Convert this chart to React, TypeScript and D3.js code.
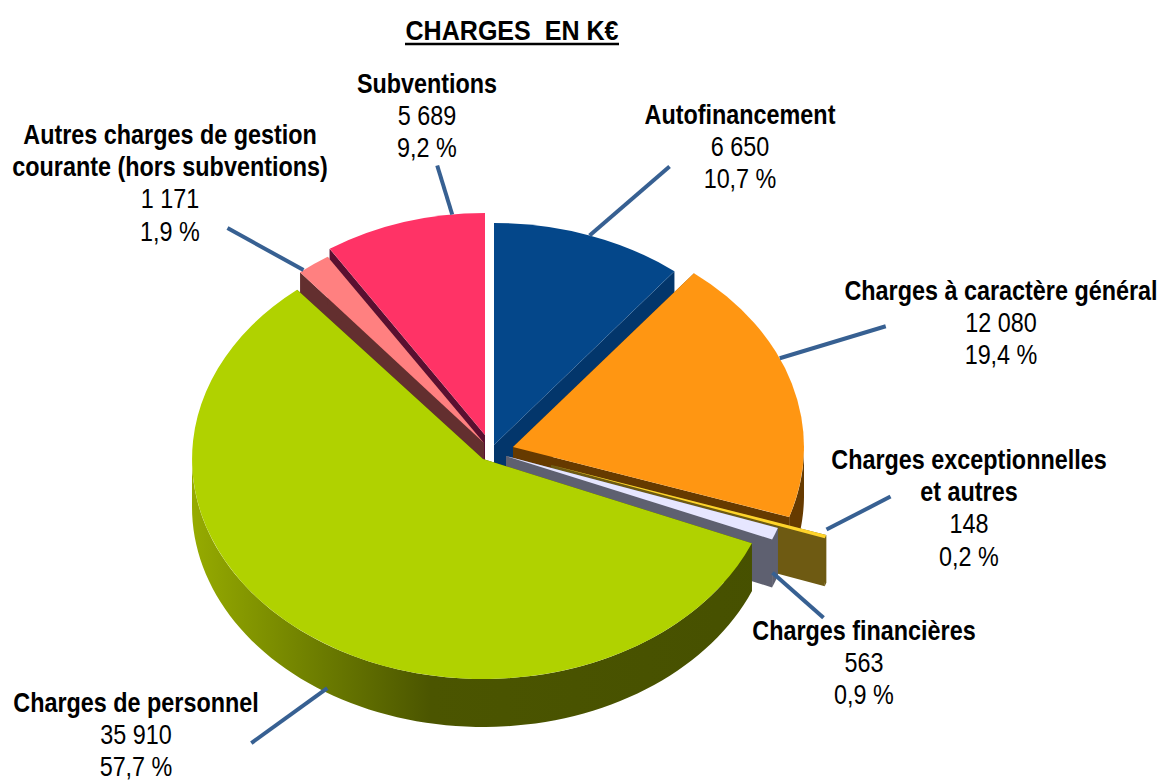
import React from "react";
import * as d3 from "d3";

const categories = [
  "Autofinancement",
  "Charges à caractère général",
  "Charges exceptionnelles|et autres",
  "Charges financières",
  "Charges de personnel",
  "Autres charges de gestion|courante (hors subventions)",
  "Subventions",
];
const values = [6650, 12080, 148, 563, 35910, 1171, 5689];
const valueLabels = ["6 650", "12 080", "148", "563", "35 910", "1 171", "5 689"];
const percentLabels = ["10,7 %", "19,4 %", "0,2 %", "0,9 %", "57,7 %", "1,9 %", "9,2 %"];

const faceColors = ["#04478a", "#ff9612", "#ffd42a", "#e6e6ff", "#b0d200", "#ff8080", "#ff3366"];
const wallColors = ["#03366b", "#663a00", "#6e5a12", "#5e6070", "url(#greenWall)", "#632f2f", "#5a0f30"];

// layout of the exploded slices: centre x, centre y, radius x, radius y
const sliceCx = [494, 513, 551, 506, 483, 484, 485];
const sliceCy = [445, 447, 465, 456, 459, 443, 435];
const sliceRx = [290, 291, 290, 288, 291, 288, 286];
const sliceRy = [222, 222, 222, 218, 220, 222, 222];
const depth = 48;
const drawOrder = [6, 5, 0, 1, 2, 3, 4];

// label layout
const labelCx = [740, 1001, 969, 864, 136, 170, 427];
const labelTop = [124, 300, 469, 640, 712, 144, 93];
const lineStep = 32.2;
const textSqueeze = 0.835;
const titleSqueeze = 0.895;

// leaders: fraction along slice's arc, nudge from arc, offset to outer end
const leaderFrac = [0.5, 0.4, 0.5, 0.6, 0.5, 0.13, 0.8];
const leaderNudge = [[0, 0], [0, 0], [1, -7], [-2, 38], [17, 4 + depth], [0, 0], [0, 0]];
const leaderOffset = [[80, -69], [106, -32], [64, -33], [51, 45], [-76, 55], [-76, -42], [-15, -49]];

const FONT = "'Liberation Sans', Arial, sans-serif";

const pieGen = d3.pie<number>().sort(null).startAngle(0).endAngle(2 * Math.PI);
const arcs = pieGen(values);
const unitArc = d3.arc<any>().innerRadius(0).outerRadius(1);

function pt(i: number, a: number, dy = 0): [number, number] {
  return [sliceCx[i] + sliceRx[i] * Math.sin(a), sliceCy[i] - sliceRy[i] * Math.cos(a) + dy];
}

const poly = d3.line();

function radialWall(i: number, a: number) {
  const c: [number, number] = [sliceCx[i], sliceCy[i]];
  return poly([c, pt(i, a), pt(i, a, depth), [c[0], c[1] + depth]]) + "Z";
}

function arcWall(i: number, a0: number, a1: number) {
  const lo = Math.max(a0, Math.PI / 2);
  const hi = Math.min(a1, (3 * Math.PI) / 2);
  if (hi <= lo) return null;
  const n = 80;
  const t = d3.scaleLinear().domain([0, n]).range([lo, hi]);
  const top = d3.range(n + 1).map((k) => pt(i, t(k)));
  const bottom = d3.range(n, -1, -1).map((k) => pt(i, t(k), depth));
  return poly([...top, ...bottom]) + "Z";
}

function Line({ x, y, text, bold, squeeze }: { x: number; y: number; text: string; bold?: boolean; squeeze: number }) {
  return (
    <text
      transform={`translate(${x},${y}) scale(${squeeze},1)`}
      textAnchor="middle"
      fontSize={28}
      fontWeight={bold ? "bold" : "normal"}
      fill="#000"
      style={{ whiteSpace: "pre" }}
    >
      {text}
    </text>
  );
}

export default function App() {
  const gradX = d3.scaleLinear().domain([0, 1]).range([192, 790]);
  return (
    <svg
      width={1162}
      height={780}
      viewBox="0 0 1162 780"
      style={{ position: "absolute", left: 0, top: 0, background: "#fff" }}
      fontFamily={FONT}
    >
      <defs>
        <linearGradient id="greenWall" gradientUnits="userSpaceOnUse" x1={gradX(0)} x2={gradX(1)} y1={0} y2={0}>
          <stop offset="0" stopColor="#96ab00" />
          <stop offset="0.22" stopColor="#6b7b00" />
          <stop offset="0.4" stopColor="#4b5500" />
          <stop offset="1" stopColor="#465000" />
        </linearGradient>
      </defs>

      <Line x={512} y={40} text="CHARGES  EN K€" bold squeeze={titleSqueeze} />
      <line x1={405} x2={619} y1={44} y2={44} stroke="#000" strokeWidth={2.5} />

      {drawOrder.map((i) => {
        const d = arcs[i];
        const aw = arcWall(i, d.startAngle, d.endAngle);
        const solid = wallColors[i] === "url(#greenWall)" ? "#465000" : wallColors[i];
        return (
          <g key={i}>
            <path d={radialWall(i, d.startAngle)} fill={solid} />
            <path d={radialWall(i, d.endAngle)} fill={solid} />
            {aw && <path d={aw} fill={wallColors[i]} />}
            <path
              d={unitArc(d) as string}
              fill={faceColors[i]}
              transform={`translate(${sliceCx[i]},${sliceCy[i]}) scale(${sliceRx[i]},${sliceRy[i]})`}
            />
          </g>
        );
      })}

      {arcs.map((d, i) => {
        const a = d.startAngle + (d.endAngle - d.startAngle) * leaderFrac[i];
        const [x, y] = pt(i, a);
        const x1 = x + leaderNudge[i][0];
        const y1 = y + leaderNudge[i][1];
        return (
          <line
            key={i}
            x1={x1}
            y1={y1}
            x2={x1 + leaderOffset[i][0]}
            y2={y1 + leaderOffset[i][1]}
            stroke="#376092"
            strokeWidth={4}
          />
        );
      })}

      {categories.map((c, i) => {
        const names = c.split("|");
        return (
          <g key={i}>
            {names.map((n, k) => (
              <Line key={k} x={labelCx[i]} y={labelTop[i] + k * lineStep} text={n} bold squeeze={textSqueeze} />
            ))}
            <Line x={labelCx[i]} y={labelTop[i] + names.length * lineStep} text={valueLabels[i]} squeeze={textSqueeze} />
            <Line x={labelCx[i]} y={labelTop[i] + (names.length + 1) * lineStep} text={percentLabels[i]} squeeze={textSqueeze} />
          </g>
        );
      })}
    </svg>
  );
}
